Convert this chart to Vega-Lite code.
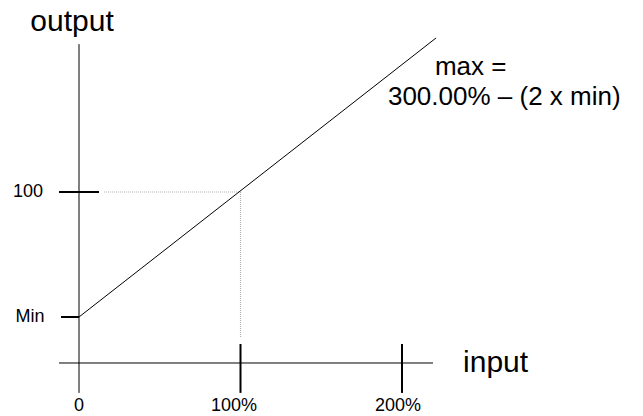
{
  "$schema": "https://vega.github.io/schema/vega-lite/v6.json",
  "width": 643,
  "height": 416,
  "autosize": "none",
  "padding": 0,
  "background": "white",
  "config": {"view": {"stroke": null}, "text": {"font": "Liberation Sans", "color": "black"}},
  "encoding": {
    "x": {"field": "x", "type": "quantitative", "scale": {"domain": [-48.92, 349.23], "nice": false, "zero": false}, "axis": null},
    "y": {"field": "y", "type": "quantitative", "scale": {"domain": [-31.0, 212.3], "nice": false, "zero": false}, "axis": null}
  },
  "layer": [
    {
      "data": {"values": [
        {"x": 0, "x2": 0, "y": -17.5, "y2": 186.5},
        {"x": -12.38, "x2": 219.2, "y": 0, "y2": 0}
      ]},
      "mark": {"type": "rule", "color": "black", "strokeWidth": 1},
      "encoding": {"x2": {"field": "x2"}, "y2": {"field": "y2"}}
    },
    {
      "data": {"values": [
        {"x": 100, "x2": 100, "y": -17.5, "y2": 11.1},
        {"x": 200, "x2": 200, "y": -17.5, "y2": 11.1},
        {"x": -12.38, "x2": 12.38, "y": 100, "y2": 100},
        {"x": -11.15, "x2": 0, "y": 26.9, "y2": 26.9}
      ]},
      "mark": {"type": "rule", "color": "black", "strokeWidth": 2},
      "encoding": {"x2": {"field": "x2"}, "y2": {"field": "y2"}}
    },
    {
      "data": {"values": [
        {"x": 15.5, "x2": 100, "y": 100, "y2": 100},
        {"x": 100, "x2": 100, "y": 15.2, "y2": 100}
      ]},
      "mark": {"type": "rule", "color": "#b0b0b0", "strokeWidth": 1.2, "strokeDash": [1, 1]},
      "encoding": {"x2": {"field": "x2"}, "y2": {"field": "y2"}}
    },
    {
      "data": {"values": [
        {"x": 0, "y": 26.9},
        {"x": 221.1, "y": 190.1}
      ]},
      "mark": {"type": "line", "color": "black", "strokeWidth": 1},
      "encoding": {}
    },
    {
      "data": {"values": [
        {"x": 0, "y": -25.1, "label": "0"},
        {"x": 96, "y": -25.1, "label": "100%"},
        {"x": 197.5, "y": -25.1, "label": "200%"},
        {"x": -31.6, "y": 100, "label": "100"},
        {"x": -30.3, "y": 26.9, "label": "Min"}
      ]},
      "mark": {"type": "text", "fontSize": 18, "align": "center", "baseline": "middle"},
      "encoding": {"text": {"field": "label"}}
    },
    {
      "data": {"values": [
        {"x": -4.3, "y": 199.4, "label": "output"}
      ]},
      "mark": {"type": "text", "fontSize": 30, "align": "center", "baseline": "middle"},
      "encoding": {"text": {"field": "label"}}
    },
    {
      "data": {"values": [
        {"x": 237.8, "y": 0, "label": "input"}
      ]},
      "mark": {"type": "text", "fontSize": 30, "align": "left", "baseline": "middle"},
      "encoding": {"text": {"field": "label"}}
    },
    {
      "data": {"values": [
        {"x": 220.4, "y": 173.1, "label": "max ="},
        {"x": 191.3, "y": 155.6, "label": "300.00% – (2 x min)"}
      ]},
      "mark": {"type": "text", "fontSize": 26, "align": "left", "baseline": "middle"},
      "encoding": {"text": {"field": "label"}}
    }
  ]
}
